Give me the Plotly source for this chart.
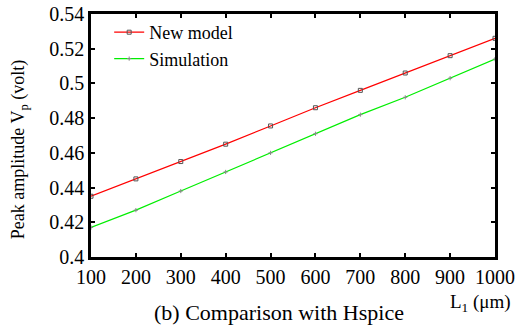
import plotly.graph_objects as go

L1 = [100, 200, 300, 400, 500, 600, 700, 800, 900, 1000]
new_model = [0.435, 0.445, 0.455, 0.465, 0.4755, 0.486, 0.496, 0.506, 0.516, 0.526]
simulation = [0.417, 0.427, 0.438, 0.449, 0.460, 0.471, 0.482, 0.492, 0.503, 0.514]
x_ticks = [100, 200, 300, 400, 500, 600, 700, 800, 900, 1000]
y_ticks = [0.4, 0.42, 0.44, 0.46, 0.48, 0.5, 0.52, 0.54]
y_ticktext = ["0.4", "0.42", "0.44", "0.46", "0.48", "0.5", "0.52", "0.54"]

FONT = "Liberation Serif"

fig = go.Figure()
fig.add_trace(go.Scatter(
    x=L1, y=new_model, name="New model", mode="lines+markers",
    line=dict(color="#ff0000", width=1.2),
    marker=dict(symbol="square-open", size=4, color="#555555", line=dict(width=1, color="#555555")),
))
fig.add_trace(go.Scatter(
    x=L1, y=simulation, name="Simulation", mode="lines+markers",
    line=dict(color="#00ee00", width=1.2),
    marker=dict(symbol="cross-thin-open", size=3, color="#888888", line=dict(width=1, color="#888888")),
))

axis_common = dict(
    showline=True, linecolor="black", linewidth=2.5, mirror="ticks",
    ticks="inside", ticklen=4, tickwidth=2, tickcolor="black",
    showgrid=False, zeroline=False, automargin=False,
    tickfont=dict(family=FONT, size=20, color="black"),
)

fig.update_layout(
    width=516, height=327,
    margin=dict(l=91, r=21, t=14, b=70, pad=0, autoexpand=False),
    paper_bgcolor="white", plot_bgcolor="white",
    font=dict(family=FONT, size=20, color="black"),
    showlegend=True,
    legend=dict(x=0.045, y=1.0, xanchor="left", yanchor="top",
                bgcolor="rgba(0,0,0,0)", font=dict(family=FONT, size=18),
                itemwidth=30, tracegroupgap=0),
    xaxis=dict(range=[100, 1000], tickvals=x_ticks, **axis_common),
    yaxis=dict(range=[0.4, 0.54], tickvals=y_ticks, ticktext=y_ticktext, **axis_common),
    annotations=[
        dict(text="Peak amplitude V<sub>p</sub> (volt)", textangle=-90,
             xref="paper", yref="paper", x=-0.178, y=0.44, xanchor="center", yanchor="middle",
             showarrow=False, font=dict(family=FONT, size=18)),
        dict(text="L<sub>1</sub> (μm)", xref="paper", yref="paper",
             x=1.045, y=-0.13, xanchor="right", yanchor="top",
             showarrow=False, font=dict(family=FONT, size=19)),
        dict(text="(b) Comparison with Hspice", xref="paper", yref="paper",
             x=0.465, y=-0.17, xanchor="center", yanchor="top",
             showarrow=False, font=dict(family=FONT, size=22)),
    ],
)

fig.write_html("out.html", config={"displayModeBar": False},
               post_script="document.body.style.margin='0';document.body.style.padding='0';")
